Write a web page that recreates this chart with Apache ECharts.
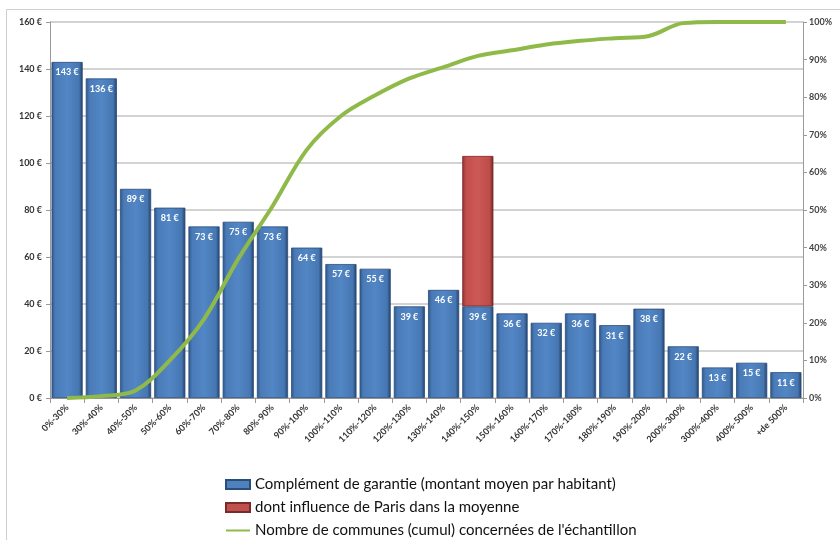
<!DOCTYPE html>
<html>
<head>
<meta charset="utf-8">
<script src="https://cdn.jsdelivr.net/npm/echarts@6/dist/echarts.min.js"></script>
<style>
  html, body { margin: 0; padding: 0; background: #fff; }
  #chart { width: 840px; height: 540px; }
</style>
</head>
<body>
<div id="chart"></div>
<script>
// Tranches de potentiel financier
const categories = ['0%-30%', '30%-40%', '40%-50%', '50%-60%', '60%-70%', '70%-80%', '80%-90%',
  '90%-100%', '100%-110%', '110%-120%', '120%-130%', '130%-140%', '140%-150%', '150%-160%',
  '160%-170%', '170%-180%', '180%-190%', '190%-200%', '200%-300%', '300%-400%', '400%-500%', '+de 500%'];

// Complément de garantie, montant moyen par habitant (€)
const complement = [143, 136, 89, 81, 73, 75, 73, 64, 57, 55, 39, 46, 39, 36, 32, 36, 31, 38, 22, 13, 15, 11];

// Part de la moyenne due à Paris (€), empilée sur la tranche 140%-150%
const parisInfluence = [null, null, null, null, null, null, null, null, null, null, null, null, 64,
  null, null, null, null, null, null, null, null, null];

// Nombre de communes cumulé (% de l'échantillon)
const cumulCommunes = [0, 0.5, 2, 10, 21, 37, 51, 66, 75, 80.5, 85, 88, 91, 92.5, 94, 95, 95.7, 96.3, 99.7, 100, 100, 100];

const leftTicks = { min: 0, max: 160, interval: 20 };
const rightTicks = { min: 0, max: 100, interval: 10 };

const chart = echarts.init(document.getElementById('chart'), null, { renderer: 'canvas' });

const blueFill = new echarts.graphic.LinearGradient(0, 0, 1, 0, [
  { offset: 0, color: '#2c5688' },
  { offset: 0.12, color: '#4a7bb8' },
  { offset: 0.5, color: '#5286c4' },
  { offset: 0.88, color: '#4677b3' },
  { offset: 1, color: '#233f66' }
]);
const redFill = new echarts.graphic.LinearGradient(0, 0, 1, 0, [
  { offset: 0, color: '#8f3230' },
  { offset: 0.12, color: '#c24f4c' },
  { offset: 0.5, color: '#cc5956' },
  { offset: 0.88, color: '#bd4b48' },
  { offset: 1, color: '#6e2624' }
]);

const font = 'Lato, "Open Sans", sans-serif';

chart.setOption({
  animation: false,
  backgroundColor: '#fff',
  textStyle: { fontFamily: font },
  graphic: [{
    type: 'rect',
    shape: { x: 6.5, y: 9.5, width: 860, height: 600 },
    style: { fill: 'none', stroke: '#cfcfcf', lineWidth: 1 },
    silent: true,
    z: -10
  }],
  grid: { left: 50, right: 37, top: 22, bottom: 142, containLabel: false },
  legend: {
    orient: 'vertical',
    left: 220,
    top: 472,
    height: 80,
    itemGap: 8,
    itemWidth: 24,
    itemHeight: 9,
    textStyle: { fontFamily: font, fontSize: 15, color: '#111' },
    data: [
      { name: 'Complément de garantie (montant moyen par habitant)', icon: 'rect', itemStyle: { color: '#4f81bd' } },
      { name: 'dont influence de Paris dans la moyenne', icon: 'rect', itemStyle: { color: '#c0504d' } },
      { name: "Nombre de communes (cumul) concernées de l'échantillon", itemStyle: { opacity: 0 } }
    ]
  },
  xAxis: {
    type: 'category',
    data: categories,
    axisLine: { lineStyle: { color: '#9a9a9a' } },
    axisTick: { show: true, length: 5, lineStyle: { color: '#9a9a9a' } },
    axisLabel: { rotate: 45, fontSize: 9, color: '#333', fontWeight: 'bold', margin: 8, interval: 0 }
  },
  yAxis: [{
    type: 'value',
    min: leftTicks.min, max: leftTicks.max, interval: leftTicks.interval,
    axisLine: { show: true, lineStyle: { color: '#9a9a9a' } },
    axisTick: { show: true, length: 4, lineStyle: { color: '#9a9a9a' } },
    axisLabel: { fontSize: 9, color: '#333', fontWeight: 'bold', formatter: v => v + ' €', margin: 8 },
    splitLine: { lineStyle: { color: '#c4c4c4', width: 1.5 } }
  }, {
    type: 'value',
    min: rightTicks.min, max: rightTicks.max, interval: rightTicks.interval,
    position: 'right',
    axisLine: { show: true, lineStyle: { color: '#9a9a9a' } },
    axisTick: { show: true, length: 4, lineStyle: { color: '#9a9a9a' } },
    axisLabel: { fontSize: 9, color: '#444', fontWeight: 'bold', formatter: v => v + '%', margin: 6 },
    splitLine: { show: false }
  }],
  series: [{
    name: 'Complément de garantie (montant moyen par habitant)',
    type: 'bar',
    stack: 'montant',
    data: complement,
    barCategoryGap: '9%',
    itemStyle: { color: blueFill, borderColor: '#2a4d7a', borderWidth: 0.8 },
    label: {
      show: true,
      position: 'insideTop',
      distance: 6,
      formatter: p => p.value + ' €',
      color: '#fff',
      fontWeight: 'bold',
      fontSize: 9,
      fontFamily: font
    }
  }, {
    name: 'dont influence de Paris dans la moyenne',
    type: 'bar',
    stack: 'montant',
    data: parisInfluence,
    itemStyle: { color: redFill, borderColor: '#7a2a28', borderWidth: 0.8 }
  }, {
    name: "Nombre de communes (cumul) concernées de l'échantillon",
    type: 'line',
    yAxisIndex: 1,
    data: cumulCommunes,
    smooth: 0.35,
    symbol: 'none',
    lineStyle: { color: '#8fba4a', width: 4 },
    itemStyle: { color: '#8fba4a' },
    z: 5
  }]
});
</script>
</body>
</html>
